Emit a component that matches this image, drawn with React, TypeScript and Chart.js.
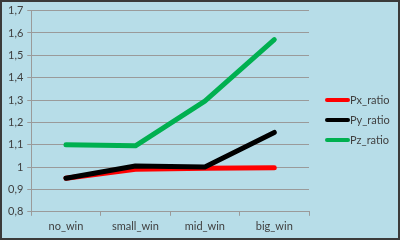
import React, { useEffect, useRef } from "react";
import { Chart, registerables } from "chart.js";

Chart.register(...registerables);

const categories = ["no_win", "small_win", "mid_win", "big_win"];
const seriesNames = ["Px_ratio", "Py_ratio", "Pz_ratio"];
const pxValues = [0.95, 0.99, 0.995, 0.997];
const pyValues = [0.95, 1.005, 1.0, 1.155];
const pzValues = [1.1, 1.095, 1.295, 1.57];
const seriesColors = ["#ff0000", "#000000", "#00b050"];
const yMin = 0.8;
const yMax = 1.7;
const yStep = 0.1;

const FONT = "Lato, 'Open Sans', sans-serif";
const TEXT = "#404040";

const bgPlugin = {
  id: "bgPlugin",
  beforeDraw(chart: any) {
    const { ctx, width, height } = chart;
    ctx.save();
    ctx.fillStyle = "#b7dde8";
    ctx.fillRect(0, 0, width, height);
    ctx.restore();
  },
  afterDraw(chart: any) {
    const { ctx, width, height } = chart;
    ctx.save();
    // legend
    const x0 = 325;
    const y0 = 100;
    const gap = 20;
    seriesNames.forEach((name, i) => {
      const ds = chart.data.datasets.find((d: any) => d.label === name);
      const y = y0 + i * gap;
      ctx.strokeStyle = ds.borderColor;
      ctx.lineWidth = 4;
      ctx.lineCap = "round";
      ctx.beginPath();
      ctx.moveTo(x0 + 2, y);
      ctx.lineTo(x0 + 23, y);
      ctx.stroke();
      ctx.fillStyle = TEXT;
      ctx.font = `11px ${FONT}`;
      ctx.textBaseline = "middle";
      ctx.textAlign = "left";
      ctx.fillText(ds.label, x0 + 25, y);
    });
    // border
    ctx.strokeStyle = "#3a3a3a";
    ctx.lineWidth = 2;
    ctx.strokeRect(1, 1, width - 2, height - 2);
    ctx.restore();
  },
};

export default function App() {
  const ref = useRef<HTMLCanvasElement>(null);
  useEffect(() => {
    document.body.style.margin = "0";
    const values = [pxValues, pyValues, pzValues];
    const orders = [1, 0, 2];
    const chart = new Chart(ref.current!, {
      type: "line",
      data: {
        labels: categories,
        datasets: seriesNames.map((name, i) => ({
          label: name,
          data: values[i],
          borderColor: seriesColors[i],
          backgroundColor: seriesColors[i],
          borderWidth: 5,
          borderCapStyle: "round",
          borderJoinStyle: "round",
          pointRadius: 0,
          tension: 0,
          order: orders[i],
        })),
      },
      options: {
        animation: false,
        responsive: false,
        maintainAspectRatio: false,
        layout: { padding: { left: 4, right: 91, top: 9, bottom: 3 } },
        plugins: { legend: { display: false }, tooltip: { enabled: false } },
        scales: {
          x: {
            offset: true,
            grid: {
              offset: true,
              drawOnChartArea: false,
              drawTicks: true,
              tickLength: 4,
              color: "#9a9a9a",
            },
            border: { color: "#9a9a9a" },
            ticks: { color: TEXT, font: { family: FONT, size: 11 }, padding: 4, maxRotation: 0 },
          },
          y: {
            min: yMin,
            max: yMax,
            grid: { color: "#9a9a9a", tickLength: 4 },
            border: { color: "#9a9a9a" },
            ticks: {
              stepSize: yStep,
              color: TEXT,
              font: { family: FONT, size: 11 },
              padding: 4,
              callback: (v: any) => {
                const n = Math.round(Number(v) * 10) / 10;
                return String(n).replace(".", ",");
              },
            },
          },
        },
      },
      plugins: [bgPlugin],
    });
    return () => chart.destroy();
  }, []);
  return <canvas ref={ref} width={400} height={240} style={{ display: "block" }} />;
}
